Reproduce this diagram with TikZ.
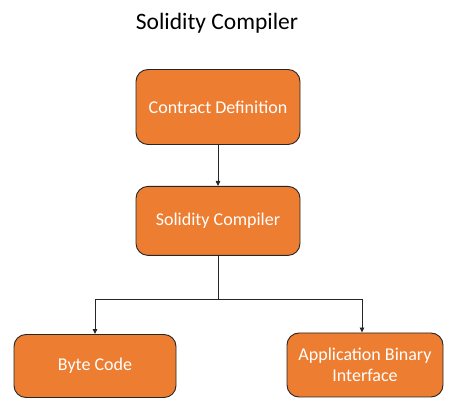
\documentclass[tikz,border=0pt]{standalone}
\usepackage{fontspec}
\setmainfont{Carlito}
\usetikzlibrary{positioning, arrows.meta}
\definecolor{boxorange}{HTML}{ED7D31}

\begin{document}
\begin{tikzpicture}[x=1pt, y=-1pt,
    stage/.style={draw=black!85, line width=0.9pt, fill=boxorange, rounded corners=12pt,
        text=white, align=center, font=\fontsize{18}{21}\selectfont, inner sep=0pt},
    link/.style={draw=black!85, line width=0.9pt, -{Triangle[length=5pt, width=4.5pt]}}]
    \useasboundingbox (0,0) rectangle (456,414);
    \node[font=\fontsize{23.5}{28}\selectfont] (title) at (217,23) {Solidity Compiler};
    \node[stage, minimum width=164pt, minimum height=75pt] (def) at (218,107) {Contract Definition};
    \node[stage, minimum width=164pt, minimum height=69pt, below=41pt of def] (comp) {Solidity Compiler};
    \node[stage, minimum width=162pt, minimum height=63pt] (byte) at (95,366) {Byte Code};
    \node[stage, minimum width=156pt, minimum height=64pt] (abi) at (365,365) {Application Binary\\Interface};
    \coordinate (split) at (218,299);
	\draw[link] (def) -- (comp);
	\draw[draw=black!85, line width=0.9pt] (comp) -- (split);
	\draw[link] (split) -| (byte.north);
	\draw[link] (split) -| ([xshift=-3pt]abi.north);
\end{tikzpicture}
\end{document}
